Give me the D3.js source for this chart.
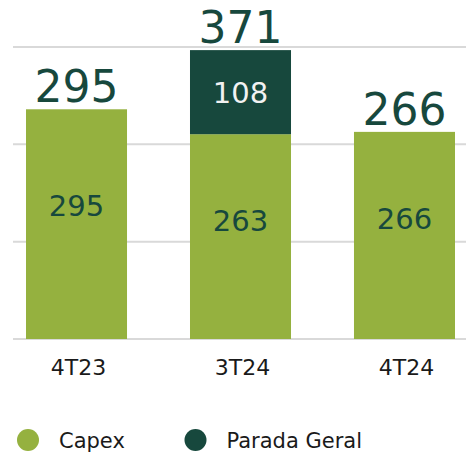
<!DOCTYPE html>
<html>
<head>
<meta charset="utf-8">
<script src="https://cdn.jsdelivr.net/npm/d3@7"></script>
<style>
  body { margin: 0; background: #fff; }
  svg { display: block; font-family: "DejaVu Sans", sans-serif; }
</style>
</head>
<body>
<svg width="466" height="454"></svg>
<script>
const categories = ['4T23', '3T24', '4T24'];
const capex = [295, 263, 266];
const paradaGeral = [0, 108, 0];
const gridValues = [0, 125, 250, 375];
const seriesNames = ['Capex', 'Parada Geral'];

const green = '#95b13f';
const dark = '#17483d';

const svg = d3.select('svg');
const width = 466;

const data = categories.map((c, i) => ({ cat: c, capex: capex[i], parada: paradaGeral[i] }));
const stack = d3.stack().keys(['capex', 'parada'])(data);

const x = d3.scaleBand().domain(categories).range([26, 455]).paddingInner(0.384).paddingOuter(0);
const y = d3.scaleLinear().domain([0, 375]).range([339, 47]);

// grid
svg.append('g').selectAll('line').data(gridValues).join('line')
    .attr('x1', 13).attr('x2', width)
    .attr('y1', d => y(d)).attr('y2', d => y(d))
    .attr('stroke', '#d9d9d9').attr('stroke-width', 2);

// barras
const colors = [green, dark];
const layers = svg.append('g').selectAll('g').data(stack).join('g')
    .attr('fill', (d, i) => colors[i]);
layers.selectAll('rect').data(d => d.filter(s => s[1] > s[0])).join('rect')
    .attr('x', d => x(d.data.cat))
    .attr('y', d => y(d[1]))
    .attr('height', d => y(d[0]) - y(d[1]))
    .attr('width', x.bandwidth());

// rótulos internos
svg.append('g').selectAll('text').data(data).join('text')
    .attr('x', d => x(d.cat) + x.bandwidth() / 2)
    .attr('y', d => y(d.capex) + 0.42 * (y(0) - y(d.capex)))
    .attr('dy', '0.36em')
    .attr('text-anchor', 'middle')
    .attr('font-size', 29)
    .attr('fill', dark)
    .text(d => d.capex);

svg.append('g').selectAll('text').data(data.filter(d => d.parada > 0)).join('text')
    .attr('x', d => x(d.cat) + x.bandwidth() / 2)
    .attr('y', d => (y(d.capex) + y(d.capex + d.parada)) / 2)
    .attr('dy', '0.36em')
    .attr('text-anchor', 'middle')
    .attr('font-size', 29)
    .attr('fill', '#f2f2f2')
    .text(d => d.parada);

// totais
svg.append('g').selectAll('text').data(data).join('text')
    .attr('x', d => x(d.cat) + x.bandwidth() / 2)
    .attr('y', d => y(d.capex + d.parada) - 7)
    .attr('text-anchor', 'middle')
    .attr('font-size', 44)
    .attr('fill', dark)
    .text(d => d.capex + d.parada);

// eixo X
const xAxis = d3.axisBottom(x).tickSize(0).tickPadding(0);
svg.append('g')
    .attr('transform', 'translate(2, 375)')
    .call(xAxis)
    .call(g => g.select('.domain').remove())
    .selectAll('text')
    .attr('dy', 0)
    .attr('font-size', 22)
    .attr('font-family', '"DejaVu Sans", sans-serif')
    .attr('fill', '#1a1a1a');

// legenda
const legend = svg.append('g').selectAll('g').data(seriesNames).join('g')
    .attr('transform', (d, i) => `translate(${28 + i * 167.5}, 440)`);
legend.append('circle').attr('r', 11).attr('fill', (d, i) => colors[i]);
legend.append('text')
    .attr('x', 31).attr('y', 8)
    .attr('font-size', 21)
    .attr('fill', '#1a1a1a')
    .text(d => d);
</script>
</body>
</html>
